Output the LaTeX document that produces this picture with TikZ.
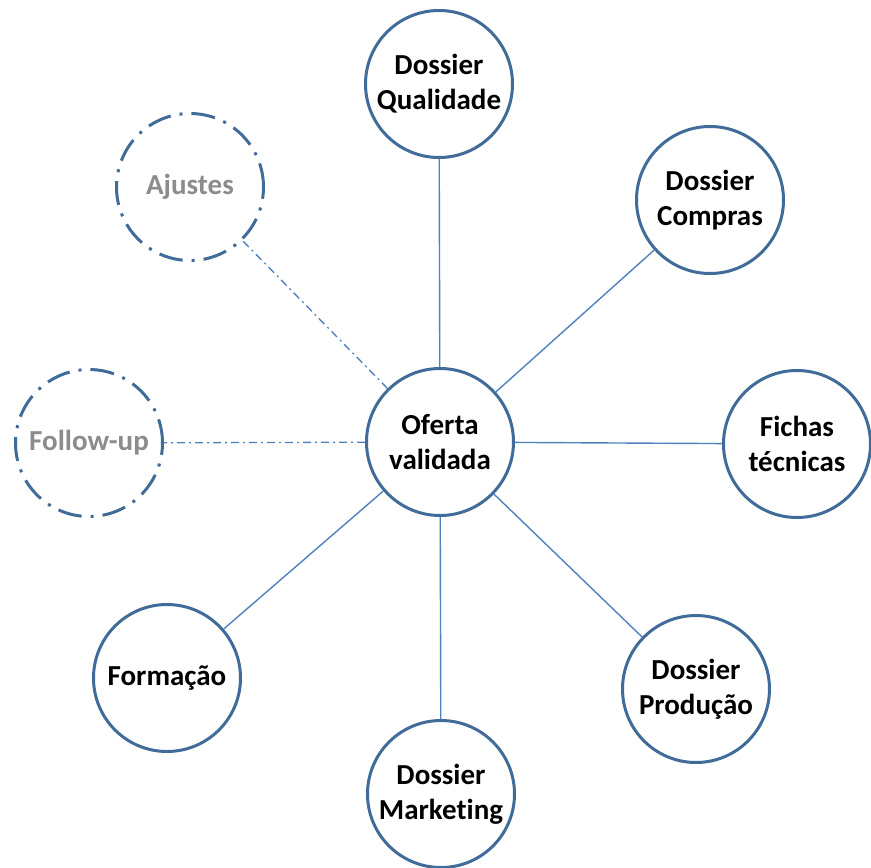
\documentclass[tikz,border=0pt]{standalone}
\usepackage{fontspec}
\setmainfont[Ligatures=NoCommon]{Carlito}
\definecolor{ringblue}{RGB}{65,108,153}
\definecolor{lineblue}{RGB}{79,129,189}
\definecolor{softgray}{RGB}{140,140,140}
\tikzset{
  bubble/.style={circle, draw=ringblue, line width=3pt, fill=white, minimum size=147pt, inner sep=0pt,
    align=center, font=\fontsize{29}{35}\selectfont\bfseries},
  dashbubble/.style={bubble, dash pattern=on 24pt off 9pt on 3pt off 9pt, text=softgray},
  link/.style={draw=lineblue, line width=1.4pt},
  dashlink/.style={draw=lineblue, line width=1.3pt, dash pattern=on 8pt off 4pt on 2pt off 4pt}
}
\begin{document}
\begin{tikzpicture}[x=1pt,y=-1pt]
\useasboundingbox (0,0) rectangle (871,868);
\node[bubble] (of) at (440,442) {Oferta\\validada};
\node[bubble] (dq) at (439,84) {Dossier\\Qualidade};
\node[bubble] (dc) at (710,200) {Dossier\\Compras};
\node[bubble] (ft) at (797,444) {Fichas\\técnicas};
\node[bubble] (dp) at (696,689) {Dossier\\Produção};
\node[bubble] (dm) at (441,794) {Dossier\\Marke\kern0pt ting};
\node[bubble] (fo) at (167,678) {Formação};
\node[dashbubble] (fu) at (89,443) {Follow-up};
\node[dashbubble] (aj) at (190,187) {Ajustes};
\path[link] (of) -- (dq);
\path[link] (of) -- (dc);
\path[link] (of) -- (ft);
\path[link] (of) -- (dp);
\path[link] (of) -- (dm);
\path[link] (of) -- (fo);
\path[dashlink] (of) -- (fu);
\path[dashlink] (of) -- (aj);
\end{tikzpicture}
\end{document}
